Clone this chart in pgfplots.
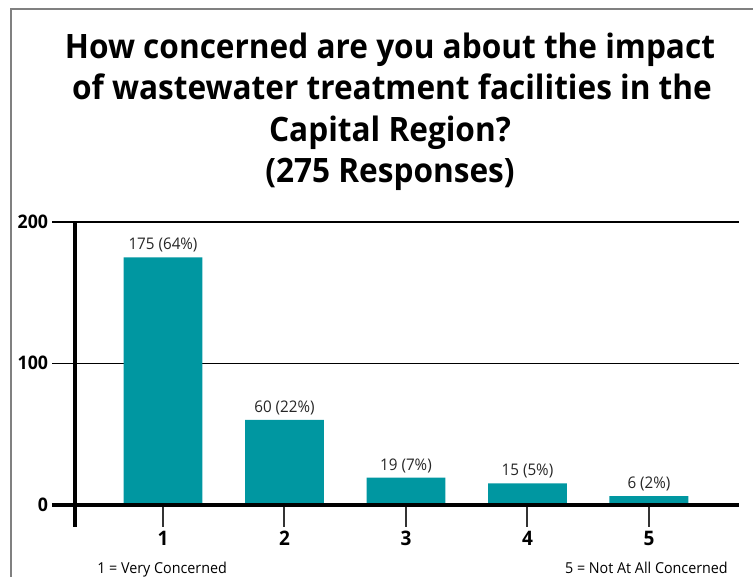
\documentclass[border=0pt]{standalone}
\usepackage{fontspec}
\setmainfont{Open Sans}[FakeStretch=0.95]
\newfontfamily\titlefont{Open Sans}[FakeStretch=0.94]
\usepackage{pgfplots}
\pgfplotsset{compat=1.18}
\definecolor{barteal}{RGB}{0,151,161}
\definecolor{framegray}{RGB}{128,128,128}
\begin{document}
\begin{tikzpicture}
% frame
\draw[framegray, line width=1.6pt] (8.25pt,-450pt) -- (8.25pt,-6.75pt) -- (585pt,-6.75pt);
% title
\begin{scope}[every node/.style={anchor=base, inner sep=0pt, font=\titlefont\fontsize{25.2}{30}\selectfont\bfseries}]
\node at (292.5pt,-43.5pt) {How concerned are you about the impact};
\node at (294pt,-74.6pt) {of wastewater treatment facilities in the};
\node at (292.5pt,-105.75pt) {Capital Region?};
\node at (292.5pt,-136.5pt) {(275 Responses)};
\end{scope}
\begin{axis}[
  at={(56.25pt,-378.4pt)}, anchor=south west,
  scale only axis, width=498pt, height=211.9pt,
  xmin=0.2757, xmax=5.741, ymin=0, ymax=200,
  clip=false,
  axis line style={draw=none},
  xtick={1,2,3,4,5}, ytick={0,100,200},
  xticklabels={1,2,3,4,5}, yticklabels={0,100,200},
  xtick pos=left, ytick pos=left,
  tick align=outside,
  major tick length=16.5pt,
  x tick style={line width=1.5pt, color=black!80},
  y tick style={draw=none},
  ymajorgrids, grid style={black, line width=1.1pt},
  xticklabel style={font=\fontsize{15}{16}\selectfont\bfseries, inner sep=3pt},
  yticklabel style={font=\fontsize{14}{15}\selectfont\bfseries, anchor=east, inner sep=0pt, xshift=-3.5pt},
  ybar, bar width=0.65,
  point meta=explicit symbolic,
  nodes near coords,
  every node near coord/.style={anchor=base, yshift=5.6pt, inner sep=0pt, font=\fontsize{12}{13}\selectfont, color=black!85},
]
\addplot[fill=barteal, draw=none] coordinates {
  (1,175) [175 (64\%)]
  (2,60) [60 (22\%)]
  (3,19) [19 (7\%)]
  (4,15) [15 (5\%)]
  (5,6) [6 (2\%)]
};
\draw[black, line width=1.1pt] (axis cs:0.2757,200) -- +(-17.25pt,0pt);
\draw[black, line width=1.1pt] (axis cs:0.2757,100) -- +(-17.25pt,0pt);
\draw[black, line width=3pt] (axis cs:0.2757,0) +(-17.25pt,0pt) -- (axis cs:5.741,0);
\draw[black, line width=3.6pt] (axis cs:0.2757,200) -- (axis cs:0.2757,0) -- +(0pt,-16.9pt);
\end{axis}
\node[anchor=base west, inner sep=0pt, font=\fontsize{11.3}{13}\selectfont] at (72.75pt,-429.75pt) {1 = Very Concerned};
\node[anchor=base east, inner sep=0pt, font=\fontsize{11.3}{13}\selectfont] at (546pt,-429.75pt) {5 = Not At All Concerned};
\pgfresetboundingbox
\path[use as bounding box] (0pt,0pt) rectangle (564.75pt,-432pt);
\end{tikzpicture}
\end{document}
